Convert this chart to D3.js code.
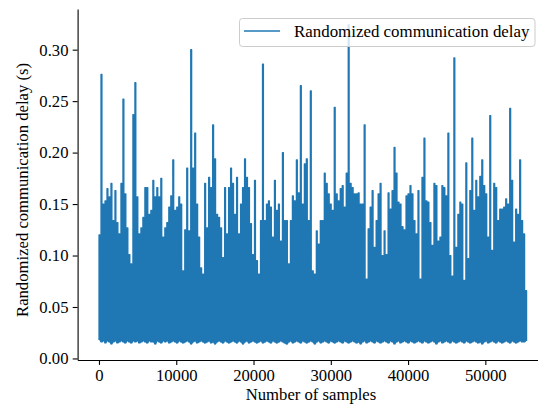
<!DOCTYPE html>
<html>
<head>
<meta charset="utf-8">
<script src="https://cdn.jsdelivr.net/npm/d3@7"></script>
<style>
  body { margin: 0; background: #fff; }
  svg { display: block; font-family: "Liberation Serif", "Times New Roman", serif; }
</style>
</head>
<body>
<svg id="chart"></svg>
<script>
// samples per pixel-column bucket
const binSize = 258;

// column maxima of the delay trace (s), left to right
const delayMax = [
  0.120,0.276,0.150,0.153,0.165,0.157,0.170,0.134,0.163,0.132,0.121,0.170,0.252,0.160,0.127,0.101,0.092,0.237,0.268,0.157,
  0.121,0.127,0.137,0.166,0.166,0.140,0.144,0.173,0.157,0.166,0.157,0.175,0.118,0.127,0.132,0.147,0.158,0.193,0.144,0.147,
  0.157,0.150,
  0.085,0.125,0.185,0.124,0.300,0.185,0.219,0.150,0.118,0.088,0.082,0.170,0.127,0.176,0.166,0.227,0.194,0.140,0.137,0.127,
  0.098,0.166,0.121,0.166,0.185,0.170,0.140,0.176,0.121,0.150,0.166,0.194,0.176,0.166,0.131,0.101,0.173,0.095,0.082,0.134,
  0.286,0.134,0.150,
  0.153,0.147,0.118,0.173,0.144,0.150,0.114,0.200,0.134,0.134,0.092,0.134,0.158,0.153,0.193,0.161,0.265,0.150,0.189,0.194,
  0.134,0.260,0.085,0.082,0.124,0.111,0.134,0.134,0.180,0.170,0.160,0.150,0.144,0.244,0.160,0.153,0.165,0.168,0.147,0.180,
  0.324,0.170,0.166,
  0.160,0.160,0.161,0.150,0.150,0.227,0.077,0.126,0.147,0.163,0.108,0.134,0.160,0.170,0.100,0.124,0.101,0.161,0.145,0.163,
  0.205,0.180,0.152,0.150,0.128,0.125,0.158,0.160,0.168,0.160,0.134,0.121,0.163,0.077,0.176,0.214,0.153,0.152,0.132,0.110,
  0.170,0.168,0.114,
  0.118,0.168,0.166,0.158,0.219,0.100,0.080,0.292,0.108,0.140,0.152,0.150,0.076,0.190,0.097,0.163,0.214,0.144,0.173,0.157,
  0.177,0.193,0.168,0.160,0.118,0.236,0.105,0.170,0.166,0.134,0.145,0.145,0.147,0.155,0.150,0.243,0.173,0.113,0.145,0.140,
  0.193,0.134,0.121,0.066
];

// column minima (s)
const delayMin = [
  0.018,0.016,0.017,0.015,0.017,0.016,0.014,0.016,0.017,0.015,0.016,0.017,0.016,0.015,0.017,0.016,0.015,0.017,0.016,0.017,
  0.015,0.016,0.017,0.016,0.015,0.017,0.016,0.016,0.014,0.017,0.016,0.015,0.017,0.016,0.017,0.015,0.016,0.017,0.016,0.015,
  0.017,0.016,0.015,0.016,0.017,0.016,0.014,0.016,0.017,0.015,0.016,0.017,0.016,0.015,0.016,0.017,0.015,0.016,0.014,0.016,
  0.017,0.016,0.015,0.017,0.016,0.015,0.016,0.017,0.016,0.015,0.017,0.016,0.014,0.016,0.017,0.015,0.016,0.017,0.016,0.015,
  0.016,0.017,0.015,0.016,0.017,0.016,0.015,0.017,0.016,0.015,0.016,0.017,0.016,0.015,0.014,0.016,0.017,0.015,0.016,0.017,
  0.016,0.015,0.017,0.016,0.015,0.016,0.017,0.016,0.014,0.016,0.017,0.015,0.016,0.017,0.016,0.015,0.017,0.016,0.015,0.016,
  0.017,0.016,0.015,0.017,0.016,0.015,0.016,0.017,0.016,0.015,0.016,0.014,0.016,0.017,0.015,0.016,0.017,0.016,0.015,0.017,
  0.016,0.015,0.016,0.017,0.016,0.015,0.017,0.016,0.014,0.016,0.017,0.015,0.016,0.017,0.016,0.015,0.017,0.016,0.015,0.016,
  0.017,0.016,0.015,0.017,0.016,0.015,0.016,0.017,0.016,0.014,0.016,0.017,0.015,0.016,0.017,0.016,0.015,0.017,0.016,0.015,
  0.016,0.017,0.016,0.015,0.017,0.016,0.015,0.016,0.017,0.016,0.015,0.016,0.014,0.016,0.017,0.015,0.016,0.017,0.016,0.015,
  0.017,0.016,0.015,0.016,0.017,0.016,0.015,0.017,0.016,0.015,0.016,0.017,0.016,0.016,0.017
];

const xTicks = [0, 10000, 20000, 30000, 40000, 50000];
const yTicks = [0.00, 0.05, 0.10, 0.15, 0.20, 0.25, 0.30];
const seriesName = 'Randomized communication delay';

const serif = '"Liberation Serif", "Times New Roman", serif';

class DelayLineChart {
  constructor(_config) {
    this.config = {
      parentElement: _config.parentElement,
      containerWidth: _config.containerWidth || 538,
      containerHeight: _config.containerHeight || 406,
      // right edge runs past the picture, as in the reference
      margin: _config.margin || {top: 9, right: -10, bottom: 46, left: 77.6}
    };
    this.initVis();
  }

  initVis() {
    let vis = this;
    const m = vis.config.margin;
    vis.width = vis.config.containerWidth - m.left - m.right;
    vis.height = vis.config.containerHeight - m.top - m.bottom;

    vis.svg = d3.select(vis.config.parentElement)
        .attr('width', vis.config.containerWidth)
        .attr('height', vis.config.containerHeight);

    vis.chart = vis.svg.append('g')
        .attr('transform', `translate(${m.left},${m.top})`);

    // build the trace: each bucket is a column swept from min to max and back,
    // which is how the dense raw signal shows up on screen
    vis.points = [];
    delayMax.forEach((v, i) => {
      const s = i * binSize;
      vis.points.push([s, delayMin[i]]);
      vis.points.push([s, v]);
      vis.points.push([s + binSize / 2, v]);
      vis.points.push([s + binSize / 2, delayMin[i]]);
    });

    const nSamples = (delayMax.length - 1) * binSize + binSize / 2;
    const xPad = nSamples * 0.05;
    const yLo = d3.min(delayMin), yHi = d3.max(delayMax);
    const yPad = (yHi - yLo) * 0.05;

    vis.xScale = d3.scaleLinear()
        .domain([-xPad, nSamples + xPad])
        .range([0, vis.width]);

    vis.yScale = d3.scaleLinear()
        .domain([yLo - yPad, yHi + yPad])
        .range([vis.height, 0]);

    vis.xAxis = d3.axisBottom(vis.xScale)
        .tickValues(xTicks)
        .tickFormat(d3.format('d'))
        .tickSize(4.9)
        .tickPadding(4.2)
        .tickSizeOuter(0);

    vis.yAxis = d3.axisLeft(vis.yScale)
        .tickValues(yTicks)
        .tickFormat(d3.format('.2f'))
        .tickSize(4.9)
        .tickPadding(4.2)
        .tickSizeOuter(0);

    vis.renderVis();
  }

  renderVis() {
    let vis = this;

    vis.chart.append('path')
        .datum(vis.points)
        .attr('fill', 'none')
        .attr('stroke', '#1f77b4')
        .attr('stroke-width', 1.2)
        .attr('stroke-linejoin', 'round')
        .attr('d', d3.line()
          .x(d => vis.xScale(d[0]))
          .y(d => vis.yScale(d[1])));

    const xAxisG = vis.chart.append('g')
        .attr('class', 'axis x-axis')
        .attr('transform', `translate(0,${vis.height})`)
        .call(vis.xAxis);

    const yAxisG = vis.chart.append('g')
        .attr('class', 'axis y-axis')
        .call(vis.yAxis);

    [xAxisG, yAxisG].forEach(g => {
      g.selectAll('text')
          .style('font-family', serif)
          .style('font-size', '16.67px')
          .attr('fill', '#000');
      g.selectAll('path, line').attr('stroke', '#000').attr('stroke-width', 1.1);
    });

    // axis titles
    vis.svg.append('text')
        .attr('x', 311)
        .attr('y', 399.5)
        .attr('text-anchor', 'middle')
        .style('font-size', '16.67px')
        .text('Number of samples');

    vis.svg.append('text')
        .attr('transform', 'translate(27.5,190) rotate(-90)')
        .attr('text-anchor', 'middle')
        .style('font-size', '16.67px')
        .text('Randomized communication delay (s)');

    // legend, upper right
    const legend = vis.svg.append('g');
    legend.append('rect')
        .attr('x', 239.5)
        .attr('y', 18.5)
        .attr('width', 295.5)
        .attr('height', 28)
        .attr('rx', 3)
        .attr('fill', '#fff')
        .attr('fill-opacity', 0.8)
        .attr('stroke', '#cccccc')
        .attr('stroke-width', 1);
    legend.append('line')
        .attr('x1', 244).attr('x2', 280)
        .attr('y1', 31).attr('y2', 31)
        .attr('stroke', '#1f77b4')
        .attr('stroke-width', 1.5);
    legend.append('text')
        .attr('x', 294)
        .attr('y', 37)
        .style('font-size', '16.9px')
        .text(seriesName);
  }
}

new DelayLineChart({parentElement: '#chart'});
</script>
</body>
</html>
